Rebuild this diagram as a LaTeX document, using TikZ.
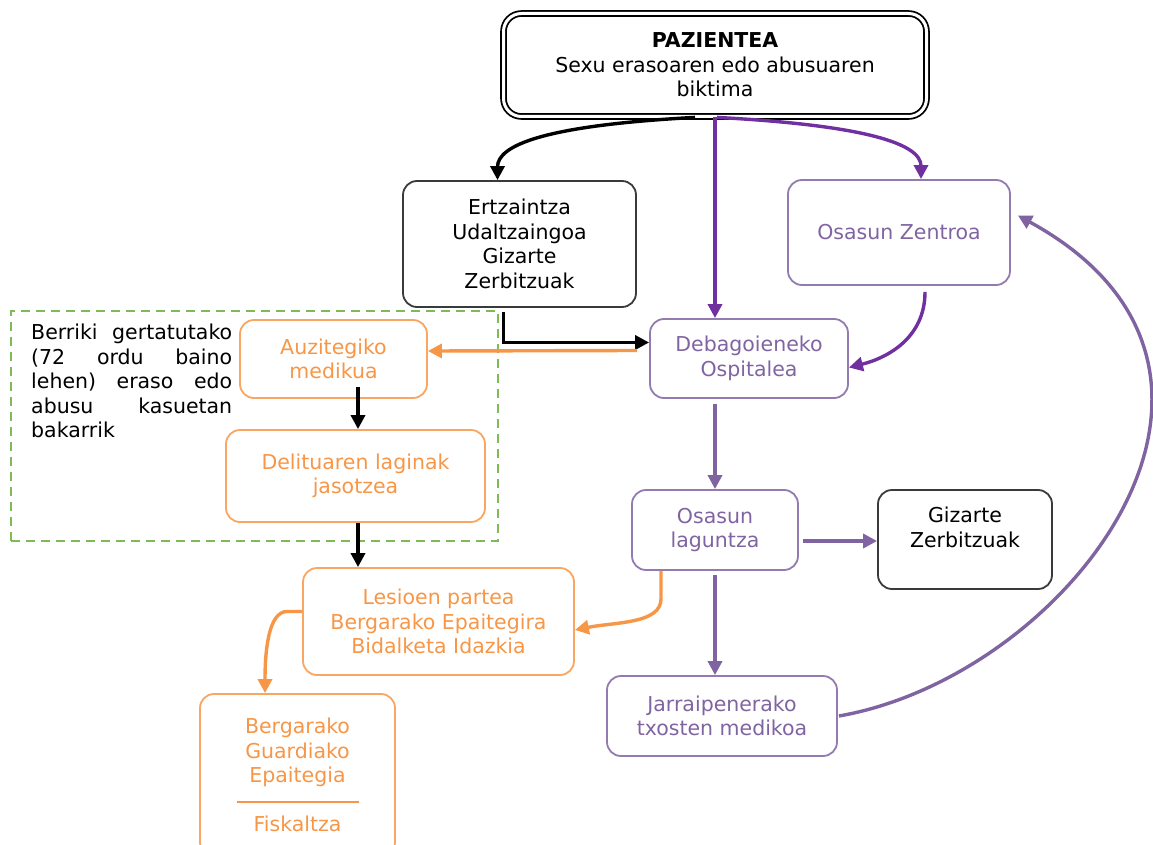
\documentclass[tikz,border=0pt]{standalone}
\usepackage{fontspec}
\setmainfont{DejaVu Sans}
\usetikzlibrary{arrows.meta}
\definecolor{cOrange}{HTML}{F79646}
\definecolor{cPurple}{HTML}{7030A0}
\definecolor{cLilac}{HTML}{8064A2}
\definecolor{cGreen}{HTML}{7DBB55}
\definecolor{cGrey}{HTML}{3A3A3A}
\tikzset{
    box/.style={rectangle, rounded corners=14pt, line width=1.8pt, align=center, inner sep=0},
    greybox/.style={box, draw=cGrey, text=black},
    orangebox/.style={box, draw=cOrange!85, text=cOrange},
    lilacbox/.style={box, draw=cLilac!85, text=cLilac},
    conn/.style={line width=3.4pt, -{Triangle[length=14pt,width=14pt]}},
    blackline/.style={conn, draw=black},
    orangeline/.style={conn, draw=cOrange},
    purpleline/.style={conn, draw=cPurple},
    lilacline/.style={conn, draw=cLilac},
    recentframe/.style={draw=cGreen, line width=2.2pt, dash pattern=on 9pt off 6pt},
    notetext/.style={inner sep=0, text width=201pt, align=left, text=black}
}

\begin{document}
\begin{tikzpicture}[x=1pt, y=1pt, font=\fontsize{20.5}{24.5}\selectfont]
    \useasboundingbox (0,0) rectangle (1153,-845);

    \node[recentframe, minimum width=487pt, minimum height=230pt] (recent) at (254.5,-426) {};
    \node[notetext, anchor=north west] (note) at (31,-324)
        {\makebox[201pt][l]{Berriki\hfill gertatutako}\\
         \makebox[201pt][l]{(72\hfill ordu\hfill baino}\\
         \makebox[201pt][l]{lehen)\hfill eraso\hfill edo}\\
         \makebox[201pt][l]{abusu\hfill kasuetan}\\
         bakarrik};

    \node[box, draw=black, double=white, double distance=3pt, line width=1.8pt,
          rounded corners=18pt, minimum width=423pt, minimum height=103pt] (pat) at (715,-65)
        {\textbf{PAZIENTEA}\\Sexu erasoaren edo abusuaren\\biktima};
    \node[greybox, minimum width=233pt, minimum height=126pt] (ertz) at (519.5,-244)
        {Ertzaintza\\Udaltzaingoa\\Gizarte\\Zerbitzuak};
    \node[lilacbox, minimum width=222pt, minimum height=105pt] (ozentro) at (899,-232.5)
        {Osasun Zentroa};
    \node[lilacbox, minimum width=198pt, minimum height=79pt] (ospit) at (749,-358.5)
        {Debagoieneko\\Ospitalea};
    \node[orangebox, minimum width=187pt, minimum height=78pt] (auzi) at (333.5,-359)
        {Auzitegiko\\medikua};
    \node[orangebox, minimum width=259pt, minimum height=92pt] (delit) at (355.5,-476)
        {Delituaren laginak\\jasotzea};
    \node[lilacbox, minimum width=166pt, minimum height=80pt] (laguntza) at (715,-530)
        {Osasun\\laguntza};
    \node[greybox, minimum width=174pt, minimum height=99pt] (gizarte) at (965,-539.5)
        {Gizarte\\Zerbitzuak\\~};
    \node[orangebox, minimum width=271pt, minimum height=107pt] (lesio) at (438.5,-621.5)
        {Lesioen partea\\Bergarako Epaitegira\\Bidalketa Idazkia};
    \node[lilacbox, minimum width=230pt, minimum height=80pt] (jarr) at (722,-716)
        {Jarraipenerako\\txosten medikoa};
    \node[orangebox, minimum width=195pt, minimum height=162pt] (berga) at (297.5,-775)
        {Bergarako\\Guardiako\\Epaitegia\\[-4pt]\textcolor{cOrange}{\rule{122pt}{2pt}}\\[4pt]Fiskaltza};

    \draw[blackline] ([xshift=-20pt]pat.south) .. controls +(-150,-8) and +(0,35) .. ([xshift=-22pt]ertz.north);
    \draw[purpleline] ([xshift=2pt]pat.south) .. controls +(150,-8) and +(0,35) .. ([xshift=22pt]ozentro.north);
    \draw[purpleline] (pat.south) -- (pat.south |- ospit.north);
    \draw[blackline] ([xshift=-16pt,yshift=-4pt]ertz.south) |- ([yshift=16pt]ospit.west);
    \draw[orangeline] ([xshift=-12pt,yshift=8pt]ospit.west) -- ([yshift=8pt]auzi.east);
    \draw[purpleline] ([xshift=26pt,yshift=-6pt]ozentro.south) .. controls +(0,-45) and +(40,10) .. ([yshift=-9pt]ospit.east);
    \draw[blackline] ([xshift=24.5pt,yshift=12pt]auzi.south) -- ([xshift=2.5pt]delit.north);
    \draw[blackline] ([xshift=2.5pt]delit.south) -- ([xshift=-80.5pt]lesio.north);
    \draw[lilacline] ([xshift=-34pt,yshift=-5pt]ospit.south) -- (laguntza.north);
    \draw[lilacline] ([xshift=4pt,yshift=-11pt]laguntza.east) -- ([yshift=-1.5pt]gizarte.west);
    \draw[lilacline] ([yshift=-4pt]laguntza.south) -- ([xshift=-7pt]jarr.north);
    \draw[orangeline] ([xshift=-54pt]laguntza.south) -- ++(0,-28) .. controls +(0,-25) and +(40,8) .. ([yshift=-8.5pt]lesio.east);
    \draw[orangeline] ([yshift=10pt]lesio.west) -- ++(-15,0) .. controls +(-18,0) and +(0,45) .. ([xshift=-32.5pt]berga.north);
    \draw[lilacline] ([xshift=1pt]jarr.east) .. controls +(230,40) and +(283,-155) .. ([xshift=7pt,yshift=17pt]ozentro.east);
\end{tikzpicture}
\end{document}
